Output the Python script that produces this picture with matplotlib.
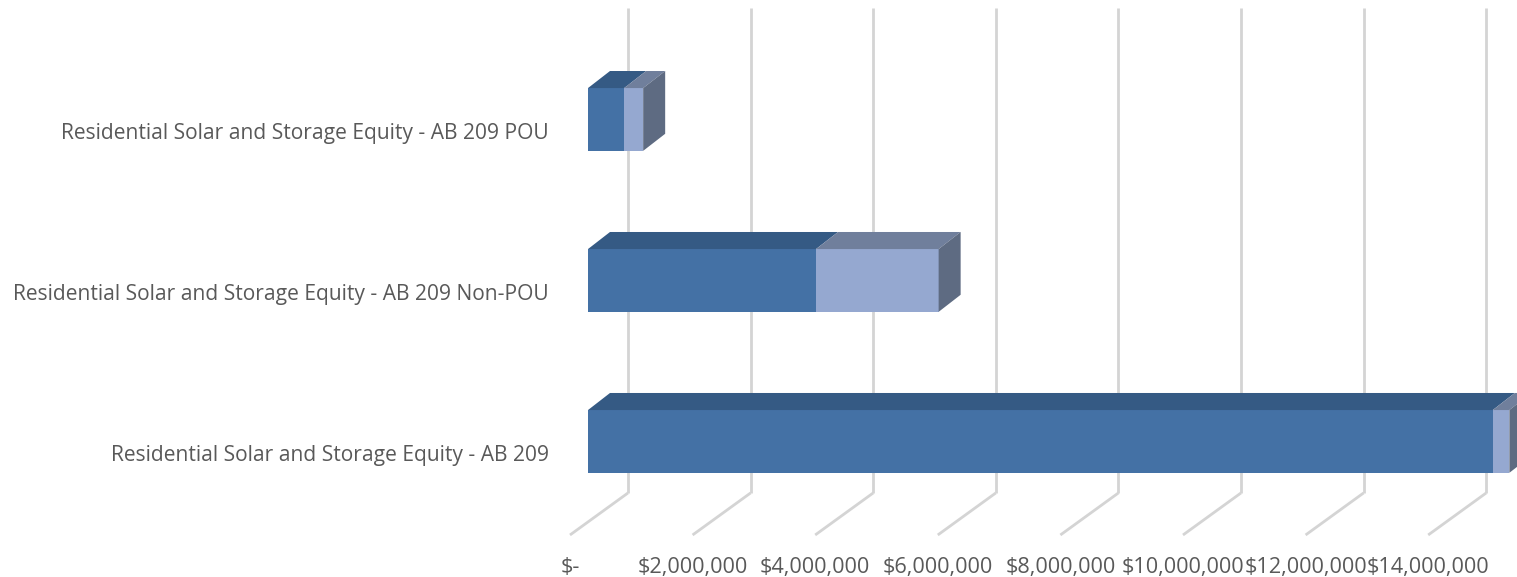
import numpy as np
import matplotlib.pyplot as plt
from matplotlib.patches import Polygon

# data
categories = [
    "Residential Solar and Storage Equity - AB 209",
    "Residential Solar and Storage Equity - AB 209 Non-POU",
    "Residential Solar and Storage Equity - AB 209 POU",
]
series1 = [14.76e6, 3.72e6, 0.59e6]
series2 = [0.27e6, 2.00e6, 0.31e6]
xticks = np.arange(0, 14e6 + 1, 2e6)
xticklabels = ["$-", "$2,000,000", "$4,000,000", "$6,000,000", "$8,000,000",
               "$10,000,000", "$12,000,000", "$14,000,000"]

# colours
c1_front, c1_top = "#4471a5", "#355a84"
c2_front, c2_top = "#95a8d0", "#707f9c"
c_side = "#5e6b82"
grid_c = "#d4d4d4"
text_c = "#595959"

plt.rcParams['font.family'] = ['Open Sans', 'DejaVu Sans']

fig = plt.figure(figsize=(15.17, 5.77), dpi=100)
ax = fig.add_axes([0, 0, 1, 1])
ax.set_xlim(-9.592e6, 15.155e6)
ax.set_ylim(-0.842, 2.742)
ax.axis("off")

# 3D depth offsets (data units)
bar_h = 0.39
bdx, bdy = 0.359e6, 0.106       # bar depth
wdx, wdy_bot, top_y = 0.6525e6, -0.320, 2.693   # back wall
fdx, fdy = -0.2936e6, -0.581    # front of floor

# gridlines: back wall verticals plus floor diagonals
for t in xticks:
    ax.plot([t + wdx, t + wdx], [wdy_bot, top_y], color=grid_c, lw=2, zorder=1,
            solid_capstyle="butt")
    ax.plot([t + wdx, t + fdx], [wdy_bot, fdy], color=grid_c, lw=2, zorder=1,
            solid_capstyle="butt")

ypos = np.arange(len(categories))
ax.barh(ypos, series1, height=bar_h, color=c1_front, zorder=3)
ax.barh(ypos, series2, left=series1, height=bar_h, color=c2_front, zorder=3)

for y, a, b in zip(ypos, series1, series2):
    top = y + bar_h / 2
    bot = y - bar_h / 2
    tot = a + b
    ax.add_patch(Polygon([(0, top), (a, top), (a + bdx, top + bdy), (bdx, top + bdy)],
                         closed=True, color=c1_top, lw=0, zorder=3))
    ax.add_patch(Polygon([(a, top), (tot, top), (tot + bdx, top + bdy), (a + bdx, top + bdy)],
                         closed=True, color=c2_top, lw=0, zorder=3))
    ax.add_patch(Polygon([(tot, bot), (tot, top), (tot + bdx, top + bdy), (tot + bdx, bot + bdy)],
                         closed=True, color=c_side, lw=0, zorder=3))
    ax.text(-0.636e6, y - 0.09, categories[y], ha="right", va="center",
            fontsize=15.1, color=text_c)

for t, lab in zip(xticks, xticklabels):
    ax.text(t + fdx, -0.78, lab, ha="center", va="center", fontsize=15.6, color=text_c)

fig.savefig("out.png", dpi=100)
